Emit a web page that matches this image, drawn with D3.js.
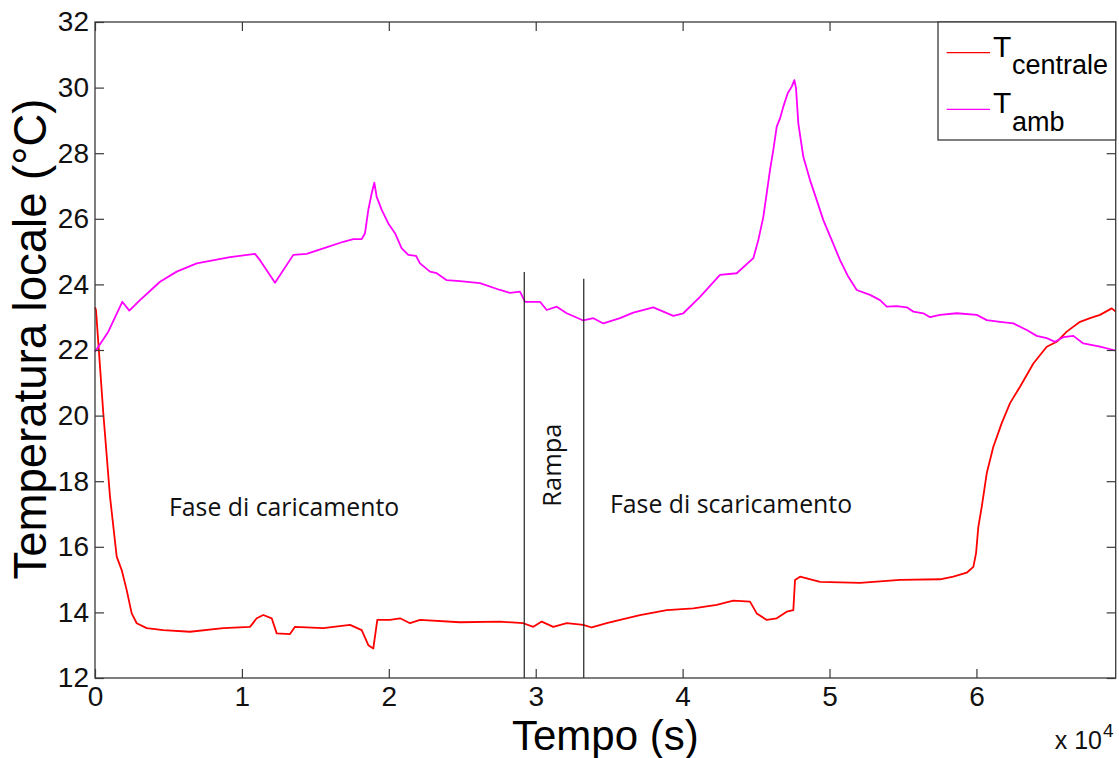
<!DOCTYPE html>
<html><head><meta charset="utf-8">
<script src="https://cdn.jsdelivr.net/npm/d3@7"></script>
<style>body{margin:0;background:#fff}</style>
</head><body><svg id="c" width="1119" height="758"></svg>
<script>
// ---- data (time in s, temperature in °C) ----
const ambTime = [0,905,1858,2335,3063,4425,5562,6923,9190,10892,11232,12253,13499,14411,15541,16903,17583,18155,18380,18605,18836,19013,19176,19517,19966,20422,20878,21328,21852,22124,22805,23261,23941,24847,26208,27570,28250,28931,29272,30293,30749,31430,32110,33240,33921,34602,35739,36644,38005,38686,39367,40048,41184,42546,43683,44813,45153,45494,45725,45950,46174,46406,46630,46855,47154,47427,47604,47719,47876,48216,48672,49129,49578,50150,50715,51280,51852,52757,53438,53894,54575,55255,55705,56385,56842,57522,58659,60020,60701,61607,62512,63424,64105,64786,65351,65916,66596,67277,68414,69319,69480];
const ambTemp = [21.95,22.56,23.47,23.2,23.52,24.08,24.39,24.64,24.83,24.93,24.74,24.05,24.9,24.93,25.1,25.3,25.38,25.38,25.56,26.27,26.78,27.1,26.67,26.27,25.86,25.56,25.1,24.9,24.87,24.64,24.39,24.34,24.13,24.1,24.04,23.83,23.74,23.78,23.47,23.47,23.22,23.32,23.12,22.9,22.97,22.81,22.97,23.14,23.3,23.17,23.04,23.12,23.62,24.29,24.34,24.8,25.35,26.06,26.78,27.49,28.1,28.81,29.06,29.42,29.83,30.03,30.23,29.98,28.91,27.89,27.18,26.57,25.96,25.35,24.74,24.23,23.83,23.68,23.52,23.32,23.34,23.3,23.17,23.12,23.0,23.07,23.12,23.07,22.91,22.86,22.81,22.61,22.43,22.36,22.25,22.39,22.43,22.2,22.1,22.0,21.98];
const cenTime = [0,68,565,1021,1477,1818,2158,2498,2839,3519,4649,6467,8734,10551,11008,11457,12029,12369,13274,13615,15541,17359,18155,18605,18945,19217,20082,20762,21443,22124,24847,27570,29156,29837,30409,31198,32110,33240,33812,34833,35739,37100,38918,40729,42321,43452,44588,45044,45725,46406,47086,47536,47651,47992,49353,52076,54799,57522,58427,59340,59789,59973,60130,60361,60701,61151,61723,62287,62968,63874,64786,65466,66147,67052,67733,68414,69210,69480];
const cenTemp = [23.3,23.22,20.07,17.53,15.7,15.29,14.68,13.97,13.67,13.52,13.46,13.41,13.52,13.56,13.82,13.92,13.82,13.36,13.34,13.56,13.52,13.62,13.46,13.0,12.9,13.77,13.77,13.82,13.67,13.77,13.7,13.72,13.67,13.56,13.72,13.56,13.67,13.62,13.54,13.67,13.77,13.92,14.07,14.12,14.23,14.36,14.33,13.97,13.77,13.82,14.02,14.07,14.99,15.09,14.93,14.9,14.99,15.01,15.09,15.21,15.39,15.8,16.61,17.22,18.24,19.05,19.77,20.38,20.88,21.59,22.1,22.25,22.56,22.86,22.97,23.07,23.27,23.17];
const xTicks = [0,10000,20000,30000,40000,50000,60000];
const xTickLabels = ["0","1","2","3","4","5","6"];
const yTicks = [12,14,16,18,20,22,24,26,28,30,32];
const phaseLineTime = [29220,33270];
const phaseLineTop = [24.38,24.17];
const seriesNames = ["centrale","amb"];
const seriesColors = ["#ff0000","#ff00ff"];

// ---- layout ----
const svg = d3.select("#c");
const L=95, T=22, R=1115.7, B=678;
const x = d3.scaleLinear().domain([0,69480]).range([L,R]);
const y = d3.scaleLinear().domain([12,32]).range([B,T]);
const axisFont = "'Liberation Sans', Arial, sans-serif";
const axisColor = "#3a3a3a";

// curves
const line = d3.line().x(d=>x(d[0])).y(d=>y(d[1]));
const amb = ambTime.map((t,i)=>[t,ambTemp[i]]);
const cen = cenTime.map((t,i)=>[t,cenTemp[i]]);
svg.append("path").attr("d",line(cen)).attr("fill","none").attr("stroke",seriesColors[0]).attr("stroke-width",1.8).attr("stroke-linejoin","round");
svg.append("path").attr("d",line(amb)).attr("fill","none").attr("stroke",seriesColors[1]).attr("stroke-width",1.8).attr("stroke-linejoin","round");

// phase lines
phaseLineTime.forEach((t,i)=>{
  svg.append("line").attr("x1",x(t)).attr("x2",x(t)).attr("y1",y(12)).attr("y2",y(phaseLineTop[i]))
    .attr("stroke","#222").attr("stroke-width",1.2);
});

// annotations
const annFont = "'Open Sans', 'Noto Sans', sans-serif";
svg.append("text").attr("x",x(5040)).attr("y",y(16.94)).attr("font-family",annFont).attr("font-size",24.8).attr("fill","#111").text("Fase di caricamento");
svg.append("text").attr("x",x(35060)).attr("y",y(17.02)).attr("font-family",annFont).attr("font-size",24.8).attr("fill","#111").text("Fase di scaricamento");
svg.append("text").attr("transform",`translate(${x(31700)},${y(18.49)}) rotate(-90)`).attr("text-anchor","middle")
  .attr("font-family",annFont).attr("font-size",25.5).attr("fill","#111").text("Rampa");

// axes (ticks inside)
const xb = svg.append("g").attr("transform",`translate(0,${B})`)
  .call(d3.axisBottom(x).tickValues(xTicks).tickFormat((d,i)=>xTickLabels[i]).tickSizeInner(-9).tickSizeOuter(0).tickPadding(8));
const xt = svg.append("g").attr("transform",`translate(0,${T})`)
  .call(d3.axisTop(x).tickValues(xTicks).tickFormat("").tickSizeInner(-9).tickSizeOuter(0));
const yl = svg.append("g").attr("transform",`translate(${L},0)`)
  .call(d3.axisLeft(y).tickValues(yTicks).tickFormat(d3.format("d")).tickSizeInner(-9).tickSizeOuter(0).tickPadding(6));
const yr = svg.append("g").attr("transform",`translate(${R},0)`)
  .call(d3.axisRight(y).tickValues(yTicks).tickFormat("").tickSizeInner(-9).tickSizeOuter(0));
[xb,xt,yl,yr].forEach(g=>{
  g.select(".domain").remove();
  g.selectAll(".tick line").attr("stroke",axisColor).attr("stroke-width",1.2);
  g.selectAll(".tick text").attr("font-family",axisFont).attr("font-size",28).attr("fill","#111");
});
svg.append("rect").attr("x",L).attr("y",T).attr("width",R-L).attr("height",B-T)
  .attr("fill","none").attr("stroke",axisColor).attr("stroke-width",1.3);

// exponent
svg.append("text").attr("x",1102).attr("y",749).attr("text-anchor","end").attr("font-family",axisFont).attr("font-size",25).attr("fill","#111").text("x 10");
svg.append("text").attr("x",1103).attr("y",737).attr("font-family",axisFont).attr("font-size",19).attr("fill","#111").text("4");

// axis titles
svg.append("text").attr("x",(L+R)/2).attr("y",750).attr("text-anchor","middle").attr("font-family",axisFont).attr("font-size",42).attr("fill","#000").text("Tempo (s)");
svg.append("text").attr("transform",`translate(46,${339}) rotate(-90)`).attr("text-anchor","middle").attr("font-family",axisFont).attr("font-size",45.5).attr("fill","#000").text("Temperatura locale (°C)");

// legend
const lg = svg.append("g");
lg.append("rect").attr("x",938).attr("y",T).attr("width",R-938).attr("height",118).attr("fill","#fff").attr("stroke",axisColor).attr("stroke-width",1.3);
const legY = [52.7,109.3];
seriesNames.forEach((n,i)=>{
  lg.append("line").attr("x1",946.7).attr("x2",990).attr("y1",legY[i]).attr("y2",legY[i]).attr("stroke",seriesColors[i]).attr("stroke-width",1.3);
  lg.append("text").attr("x",993).attr("y",legY[i]+4).attr("font-family",axisFont).attr("font-size",30).attr("fill","#000").text("T");
  lg.append("text").attr("x",1012).attr("y",legY[i]+21.5).attr("font-family",axisFont).attr("font-size",27).attr("fill","#000").text(n);
});
</script></body></html>
